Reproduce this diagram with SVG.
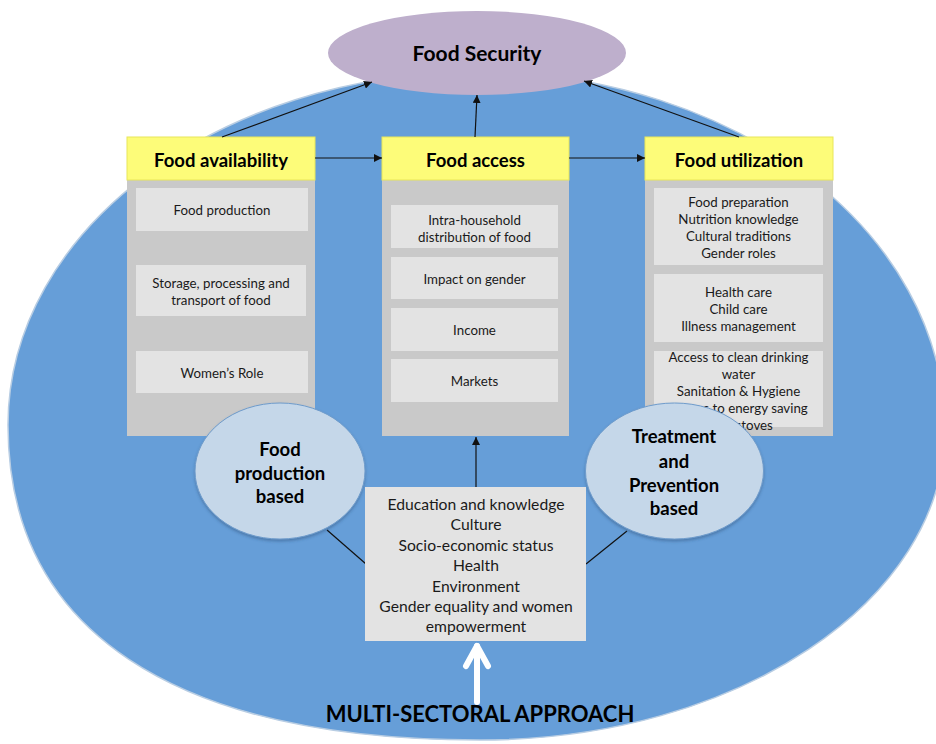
<svg xmlns="http://www.w3.org/2000/svg" width="936" height="744" viewBox="0 0 936 744">
<defs>
<style>
.hdr{fill:#FDFC79;stroke:#E8E65A;stroke-width:1}
.panel{fill:#C9C9C9}
.box{fill:#E3E3E3}
.t{font-family:Lato,"Liberation Sans",sans-serif;font-size:13.3px;fill:#1a1a1a;text-anchor:middle}
.tm{font-family:Lato,"Liberation Sans",sans-serif;font-size:15.7px;fill:#1a1a1a;text-anchor:middle}
.h{font-family:Lato,"Liberation Sans",sans-serif;font-size:18.5px;font-weight:bold;fill:#000;text-anchor:middle}
.eb{font-family:Lato,"Liberation Sans",sans-serif;font-size:18.5px;font-weight:bold;fill:#000;text-anchor:middle}
.oval{fill:#C5D7E9;stroke:#6E9BCB;stroke-width:1}
.con{stroke:#111;stroke-width:1.2;fill:none}
</style>
<marker id="ah" viewBox="0 0 10 10" refX="10" refY="5" markerWidth="8" markerHeight="8" markerUnits="userSpaceOnUse" orient="auto">
<path d="M0,0 L10,5 L0,10 z" fill="#111"/>
</marker>
<filter id="sh" x="-10%" y="-10%" width="120%" height="125%">
<feDropShadow dx="0" dy="2" stdDeviation="1.5" flood-color="#2a4d78" flood-opacity="0.45"/>
</filter>
</defs>

<g id="background">
<path d="M478,72 C736,72 945,232 945,430 C945,601 737,740 480,740 C173,740 8,630 8,425 C8,230 219,72 478,72 Z" fill="#669ED8" stroke="#B8CDE3" stroke-width="1.5"/>
</g>

<g id="food-security">
<ellipse cx="477" cy="53" rx="149" ry="42" fill="#BEAFCC"/>
<text x="477" y="61" class="h" style="font-size:21px">Food Security</text>
</g>

<g id="food-availability">
<rect x="127" y="180" width="188" height="256" class="panel"/>
<rect x="127" y="137" width="188" height="43" class="hdr"/>
<text x="221" y="167" class="h">Food availability</text>
<rect x="136" y="188" width="172" height="43" class="box"/>
<text x="222" y="215" class="t">Food production</text>
<rect x="136" y="265" width="170" height="51" class="box"/>
<text x="221" y="288" class="t">Storage, processing and</text>
<text x="221" y="305" class="t">transport of food</text>
<rect x="136" y="351" width="172" height="42" class="box"/>
<text x="222" y="378" class="t">Women’s Role</text>
</g>

<g id="food-access">
<rect x="382" y="180" width="187" height="256" class="panel"/>
<rect x="382" y="137" width="187" height="43" class="hdr"/>
<text x="475.5" y="167" class="h">Food access</text>
<rect x="391" y="205" width="167" height="43" class="box"/>
<text x="474.5" y="225" class="t">Intra-household</text>
<text x="474.5" y="242" class="t">distribution of food</text>
<rect x="391" y="257" width="167" height="42" class="box"/>
<text x="474.5" y="284" class="t">Impact on gender</text>
<rect x="391" y="308" width="167" height="43" class="box"/>
<text x="474.5" y="335" class="t">Income</text>
<rect x="391" y="359" width="167" height="43" class="box"/>
<text x="474.5" y="386" class="t">Markets</text>
</g>

<g id="food-utilization">
<rect x="645" y="180" width="188" height="256" class="panel"/>
<rect x="645" y="137" width="188" height="43" class="hdr"/>
<text x="739" y="167" class="h">Food utilization</text>
<rect x="654" y="188" width="169" height="77" class="box"/>
<text x="738.5" y="207" class="t">Food preparation</text>
<text x="738.5" y="224" class="t">Nutrition knowledge</text>
<text x="738.5" y="241" class="t">Cultural traditions</text>
<text x="738.5" y="258" class="t">Gender roles</text>
<rect x="654" y="274" width="169" height="68" class="box"/>
<text x="738.5" y="297" class="t">Health care</text>
<text x="738.5" y="314" class="t">Child care</text>
<text x="738.5" y="331" class="t">Illness management</text>
<rect x="654" y="351" width="169" height="76" class="box"/>
<text x="738.5" y="362" class="t">Access to clean drinking</text>
<text x="738.5" y="379" class="t">water</text>
<text x="738.5" y="396" class="t">Sanitation &amp; Hygiene</text>
<text x="738.5" y="413" class="t">Access to energy saving</text>
<text x="738.5" y="430" class="t">cook stoves</text>
</g>

<g id="connectors">
<line x1="222" y1="137" x2="372" y2="82" class="con" marker-end="url(#ah)"/>
<line x1="475" y1="137" x2="477" y2="95" class="con" marker-end="url(#ah)"/>
<line x1="739" y1="137" x2="584" y2="81" class="con" marker-end="url(#ah)"/>
<line x1="315" y1="158" x2="382" y2="158" class="con" marker-end="url(#ah)"/>
<line x1="569" y1="158" x2="645" y2="158" class="con" marker-end="url(#ah)"/>
<line x1="476" y1="487" x2="476" y2="437" class="con" marker-end="url(#ah)"/>
<line x1="327" y1="530" x2="366" y2="564" class="con"/>
<line x1="627" y1="531" x2="586" y2="564" class="con"/>
<g stroke="#FFFFFF" stroke-width="6" stroke-linecap="round" stroke-linejoin="round" fill="none">
<line x1="477" y1="702" x2="477" y2="646"/>
<polyline points="466,666 477,646 488,666"/>
</g>
</g>

<g id="food-production-based">
<ellipse cx="280" cy="471" rx="85" ry="68" class="oval" filter="url(#sh)"/>
<text x="280" y="456" class="eb">Food</text>
<text x="280" y="480" class="eb">production</text>
<text x="280" y="503" class="eb">based</text>
</g>

<g id="treatment-prevention">
<ellipse cx="674.5" cy="471" rx="89" ry="68" class="oval" filter="url(#sh)"/>
<text x="674" y="443" class="eb">Treatment</text>
<text x="674" y="468" class="eb">and</text>
<text x="674" y="492" class="eb">Prevention</text>
<text x="674" y="515" class="eb">based</text>
</g>

<g id="determinants">
<rect x="365" y="487" width="221" height="154" class="box"/>
<text x="476" y="510" class="tm">Education and knowledge</text>
<text x="476" y="530" class="tm">Culture</text>
<text x="476" y="551" class="tm">Socio-economic status</text>
<text x="476" y="571" class="tm">Health</text>
<text x="476" y="592" class="tm">Environment</text>
<text x="476" y="612" class="tm">Gender equality and women</text>
<text x="476" y="632" class="tm">empowerment</text>
</g>

<g id="multi-sectoral">
<text x="480" y="722" class="h" style="font-size:22px">MULTI-SECTORAL APPROACH</text>
</g>
</svg>
